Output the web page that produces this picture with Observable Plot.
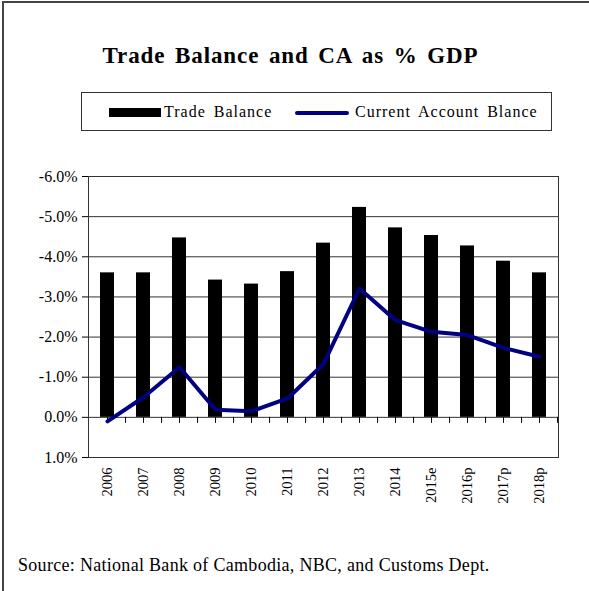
<!DOCTYPE html>
<html><head><meta charset="utf-8">
<script src="https://cdn.jsdelivr.net/npm/d3@7"></script>
<script src="https://cdn.jsdelivr.net/npm/@observablehq/plot@0.6"></script>
<style>
body{margin:0;background:#fff;}
#wrap{position:relative;width:589px;height:591px;overflow:hidden;font-family:"Liberation Serif","Times New Roman",serif;color:#000;}
#bt{position:absolute;left:2px;top:1px;width:587px;height:2px;background:#444;}
#bl{position:absolute;left:2px;top:1px;width:2px;height:590px;background:#444;}
#title{position:absolute;left:-4px;width:589px;top:43px;text-align:center;font-weight:bold;font-size:23px;word-spacing:3px;letter-spacing:0.9px;}
#legend{position:absolute;left:81px;top:92px;width:471px;height:39px;border:1px solid #333;box-sizing:border-box;}
.lg{position:absolute;}
.lt{position:absolute;top:10px;font-size:16px;line-height:18px;white-space:nowrap;letter-spacing:1px;word-spacing:3px;}
#chart{position:absolute;left:0;top:150px;}
#chart svg text{font-family:"Liberation Serif","Times New Roman",serif !important;font-size:16px !important;}
#chart svg g[aria-label^="x-axis"] text{font-size:14.5px !important;}
#caption{position:absolute;left:18px;top:555px;font-size:18px;letter-spacing:0.3px;white-space:nowrap;}
</style></head>
<body>
<div id="wrap">
  <div id="bt"></div><div id="bl"></div>
  <div id="title">Trade Balance and CA as % GDP</div>
  <div id="legend">
    <div class="lg" style="left:27px;top:15px;width:52px;height:9px;background:#000;"></div>
    <div class="lt" style="left:82px;">Trade Balance</div>
    <div class="lg" style="left:213px;top:18px;width:54px;height:4px;background:#000080;border-radius:2px;"></div>
    <div class="lt" style="left:273px;">Current Account Blance</div>
  </div>
  <div id="chart"></div>
  <div id="caption">Source: National Bank of Cambodia, NBC, and Customs Dept.</div>
</div>
<script>
const years = ["2006","2007","2008","2009","2010","2011","2012","2013","2014","2015e","2016p","2017p","2018p"];
const tradeBalance = [-3.6,-3.6,-4.47,-3.42,-3.32,-3.63,-4.34,-5.23,-4.72,-4.53,-4.27,-3.89,-3.6];
const currentAccount = [0.1,-0.5,-1.25,-0.19,-0.15,-0.47,-1.33,-3.21,-2.42,-2.13,-2.05,-1.73,-1.51];
const yTicks = [-6,-5,-4,-3,-2,-1,0,1];

const data = years.map((y,i)=>({year:y, tb:tradeBalance[i], ca:currentAccount[i]}));
const W = 589, H = 380, mL = 88, mR = 31;
const bw = (W - mL - mR) / years.length;

const chart = Plot.plot({
  width: W, height: H,
  marginTop: 26, marginLeft: mL, marginRight: mR, marginBottom: 73,
  style: {fontFamily: "Liberation Serif, Times New Roman, serif", fontSize: "16px", color: "#000", background: "transparent"},
  x: {type: "band", domain: years, padding: 0},
  y: {domain: [1, -6]},
  marks: [
    Plot.ruleY(yTicks, {stroke: "#333", strokeWidth: 1}),
    Plot.frame({stroke: "#333"}),
    Plot.ruleX(years, {x: d => d, y1: 0, y2: 0.15, stroke: "#000"}),
    Plot.ruleX(years, {x: d => d, y1: 0, y2: 0.15, stroke: "#000", dx: bw / 2}),
    Plot.barY(data, {x: "year", y1: 0, y2: "tb", fill: "#000", insetLeft: 11, insetRight: 11}),
    Plot.line(data, {x: "year", y: "ca", stroke: "#000080", strokeWidth: 4, strokeLinejoin: "round"}),
    Plot.axisY({ticks: yTicks, tickFormat: d => d.toFixed(1) + "%", tickSize: 6, tickPadding: 5, label: null}),
    Plot.axisX({tickRotate: -90, tickSize: 0, tickPadding: 10, label: null})
  ]
});
document.getElementById("chart").appendChild(chart);
</script>
</body></html>
